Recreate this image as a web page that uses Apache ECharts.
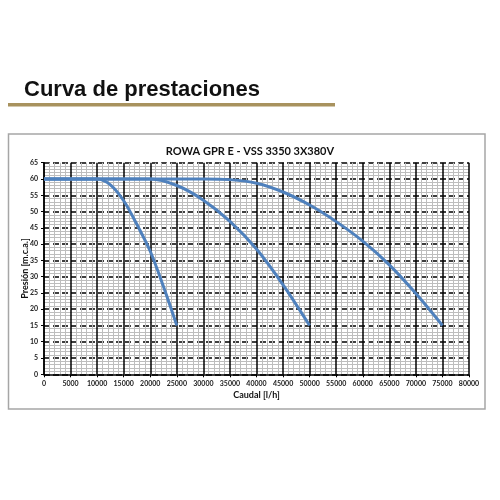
<!DOCTYPE html>
<html><head><meta charset="utf-8">
<script src="https://cdn.jsdelivr.net/npm/echarts@6/dist/echarts.min.js"></script>
<style>html,body{margin:0;padding:0;background:#fff}#c{width:500px;height:500px}</style>
</head><body><div id="c"></div>
<script>
const q1 = [0, 10000, 12500, 15000, 17500, 20000, 22500, 25000];
const h1 = [60, 60, 58.2, 53.3, 46, 37.8, 26.9, 15];
const q2 = [0, 20000, 25000, 30000, 35000, 40000, 45000, 50000];
const h2 = [60, 60, 58, 53.5, 47, 38.5, 27.5, 15];
const q3 = [0, 30000, 35000, 40000, 45000, 50000, 55000, 60000, 65000, 70000, 75000];
const h3 = [60, 60, 59.8, 58.7, 56, 52, 46.9, 40.9, 33.6, 24.8, 15];
const pageTitle = 'Curva de prestaciones';
const chartTitle = 'ROWA GPR E - VSS 3350 3X380V';
const xName = 'Caudal [l/h]';
const yName = 'Presión [m.c.a.]';

const zip = (a, b) => a.map((v, i) => [v, b[i]]);
const lineStyle = {color: '#4f81bd', width: 3};
const mk = (q, h) => ({type: 'line', data: zip(q, h), smooth: 0.3, symbol: 'none', lineStyle, z: 5});

const chart = echarts.init(document.getElementById('c'), null, {renderer: 'canvas'});
chart.setOption({
  animation: false,
  backgroundColor: '#fff',
  title: [
    {text: pageTitle, left: 19, top: 74, textStyle: {fontFamily: 'Liberation Sans', fontWeight: 'bold', fontSize: 22, color: '#111'}},
    {text: chartTitle, left: 'center', top: 141, textStyle: {fontFamily: 'Lato', fontWeight: 'bold', fontSize: 11, color: '#111'}}
  ],
  graphic: [
    {type: 'rect', shape: {x: 8, y: 103, width: 327, height: 3.5}, style: {fill: '#a8925e'}},
    {type: 'rect', shape: {x: 8.5, y: 134, width: 476.5, height: 275}, style: {fill: 'none', stroke: '#a6a6a6', lineWidth: 1.5}, z: -1}
  ],
  grid: {left: 44, right: 31, top: 162.7, bottom: 125.7, containLabel: false},
  xAxis: {
    type: 'value', min: 0, max: 80000, interval: 5000,
    name: xName, nameLocation: 'middle', nameGap: 16, nameMoveOverlap: false,
    nameTextStyle: {fontFamily: 'Lato', fontWeight: 'bold', fontSize: 9, color: '#111'},
    axisLine: {show: true, lineStyle: {color: '#000', width: 1.5}},
    axisTick: {show: true, length: 3, lineStyle: {color: '#000'}},
    axisLabel: {fontFamily: 'Lato', fontWeight: 'bold', fontSize: 7, color: '#222', margin: 6, formatter: v => String(v)},
    splitLine: {show: true, lineStyle: {color: '#000', width: 1.5}},
    minorTick: {show: false, splitNumber: 5},
    minorSplitLine: {show: true, lineStyle: {color: '#bdbdbd', width: 1}}
  },
  yAxis: {
    type: 'value', min: 0, max: 65, interval: 5,
    name: yName, nameLocation: 'middle', nameGap: 14, nameRotate: 90, nameMoveOverlap: false,
    nameTextStyle: {fontFamily: 'Lato', fontWeight: 'bold', fontSize: 9, color: '#111'},
    axisLine: {show: true, lineStyle: {color: '#000', width: 1.5}},
    axisTick: {show: true, length: 3, lineStyle: {color: '#000'}},
    axisLabel: {fontFamily: 'Lato', fontWeight: 'bold', fontSize: 7, color: '#222', margin: 6, formatter: v => String(v)},
    splitLine: {show: true, lineStyle: {color: '#000', width: 1.5, type: [6, 3]}},
    minorTick: {show: false, splitNumber: 5},
    minorSplitLine: {show: true, lineStyle: {color: '#bdbdbd', width: 1}}
  },
  series: [mk(q1, h1), mk(q2, h2), mk(q3, h3)]
});
</script></body></html>
